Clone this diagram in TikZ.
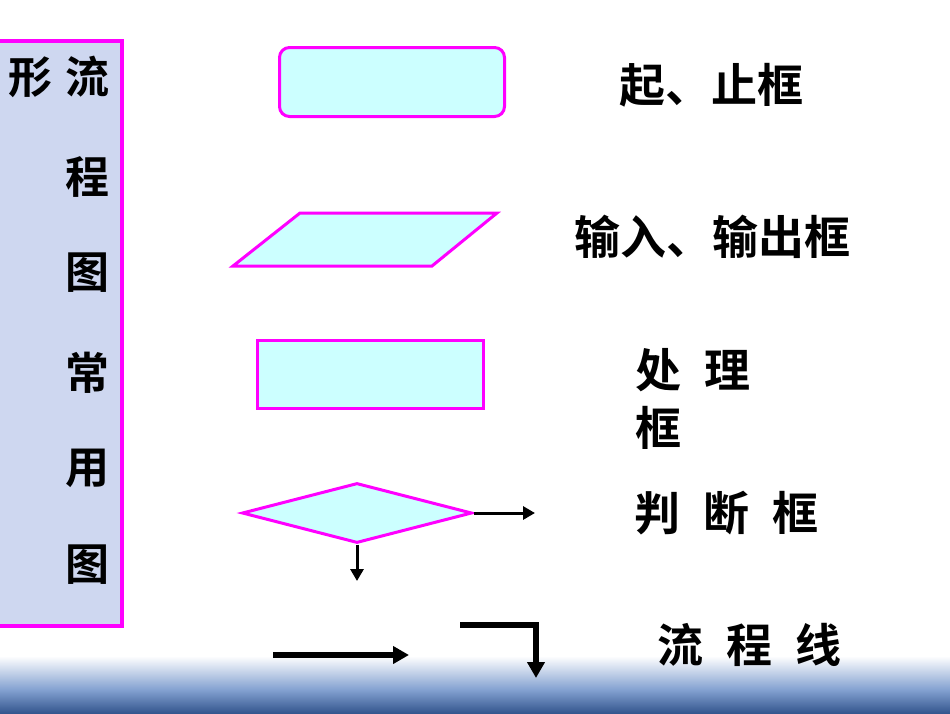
\documentclass[tikz,border=0pt]{standalone}
\usepackage{fontspec}
\usepackage{tikz}
\usetikzlibrary{shapes.geometric}
\usetikzlibrary{arrows.meta}
\newfontfamily\cjk{Noto Sans CJK SC}[BoldFont={Noto Sans CJK SC Bold}]
\definecolor{boxline}{RGB}{255,0,255}
\definecolor{boxfill}{RGB}{204,255,255}
\definecolor{panelfill}{RGB}{206,215,240}
\definecolor{seamid}{RGB}{130,160,208}
\definecolor{seadeep}{RGB}{52,86,142}
\newcommand{\gap}{\hspace{.5em}}

\begin{document}
\begin{tikzpicture}[x=1pt,y=-1pt,
    symbolbox/.style={draw=boxline,fill=boxfill,line width=3pt,inner sep=0pt},
    namebox/.style={font=\cjk\bfseries\fontsize{46}{50}\selectfont,inner sep=0pt,anchor=west},
    titlechar/.style={font=\cjk\bfseries\fontsize{44}{48}\selectfont,inner sep=0pt},
    thinflow/.style={line width=3pt,-{Triangle[length=12pt,width=13pt]}},
    thickflow/.style={line width=5.5pt,-{Triangle[length=16pt,width=17pt]}}]
    \useasboundingbox (0,0) rectangle (950,713);

    % sea at the bottom
    \shade[top color=white,bottom color=seamid] (0,656) rectangle (950,690);
    \shade[top color=seamid,bottom color=seadeep] (0,690) rectangle (950,713);

    % title panel
    \draw[draw=boxline,fill=panelfill,line width=4pt] (-5,41) rectangle (122,626);
    \node[titlechar] (t1) at (87,77) {流};
    \node[titlechar] (t2) at (87,177) {程};
    \node[titlechar] (t3) at (87,273) {图};
    \node[titlechar] (t4) at (87,373) {常};
    \node[titlechar] (t5) at (87,468) {用};
    \node[titlechar] (t6) at (87,565) {图};
    \node[titlechar] (t7) at (31,77) {形};

    % symbols
    \node[symbolbox,rectangle,rounded corners=10pt,minimum width=225pt,minimum height=69pt] (term) at (392,82) {};
    \draw[symbolbox,line join=miter] (300,213) -- (497,213) -- (432,266) -- (233,266) -- cycle;
    \node[symbolbox,rectangle,minimum width=226pt,minimum height=68pt] (proc) at (370,374) {};
    \node[symbolbox,diamond,minimum width=230pt,minimum height=60pt] (dec) at (357,513) {};

    \coordinate (yes) at (535,513);
    \coordinate (no) at (357,581);
    \draw[thinflow] (dec.east) -- (yes);
    \draw[thinflow] (dec.south) -- (no);

    \coordinate (l1) at (273,655);
    \coordinate (l2) at (409,655);
    \coordinate (e1) at (460,625);
    \coordinate (e2) at (536,625);
    \coordinate (e3) at (536,678);
    \draw[thickflow] (l1) -- (l2);
    \draw[thickflow] (e1) -- (e2) -- (e3);

    % names
    \node[namebox] (n1) at (619,85) {起、止框};
    \node[namebox] (n2) at (574,237) {输入、输出框};
    \node[namebox] (n3) at (635,370) {处\gap 理};
    \node[namebox] (n4) at (635,428) {框};
    \node[namebox] (n5) at (634,513) {判\gap 断\gap 框};
    \node[namebox] (n6) at (657,645) {流\gap 程\gap 线};
\end{tikzpicture}
\end{document}
